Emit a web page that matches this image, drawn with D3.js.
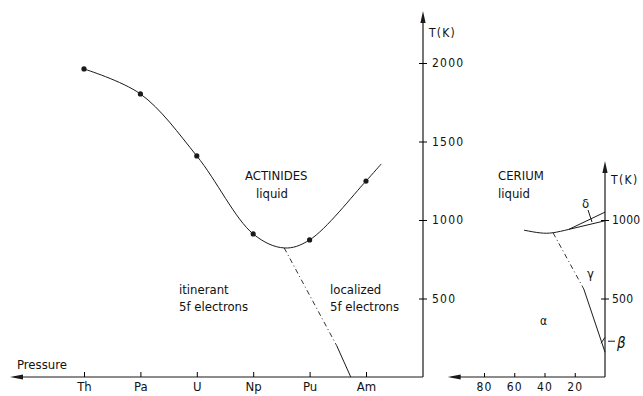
<html>
<head>
<title>Actinides and cerium</title>
<style>
body{margin:0;background:#fff;}
.chart text{font-family:"DejaVu Sans Condensed","Liberation Sans Narrow",sans-serif;fill:#111;}
</style>
<script src="https://d3js.org/d3.v7.min.js"></script>
</head>
<body>
<svg class="chart" width="643" height="396"></svg>
<script>
// actinides: melting points (K)
var elements = ["Th","Pa","U","Np","Pu","Am"];
var meltT = [1962, 1803, 1408, 911, 873, 1248];
// smooth liquidus through the points (index along the series)
var curveX = [0, 1, 2, 3, 3.55, 4, 5, 5.27];
var curveT = [1962, 1803, 1408, 911, 822, 873, 1248, 1357];
// itinerant / localized boundary
var locX = [3.55, 4.48, 4.73];
var locT = [822, 200, 0];
var tTicks = [500, 1000, 1500, 2000];

// cerium: pressure (kbar) vs T (K)
var ceLiqP = [53.5, 43, 34.3, 24];
var ceLiqT = [935, 918, 919, 940];
var ceDeltaUpP = [24, 0], ceDeltaUpT = [940, 1050];
var ceDeltaLoP = [24, 0], ceDeltaLoT = [940, 995];
var ceAlphaP = [34.3, 14, 0], ceAlphaT = [918, 560, 158];
var ceBetaP = [0, 2.6], ceBetaT = [253, 215];
var ceTicksP = [80, 60, 40, 20];
var ceTicksT = [500, 1000];

var margin = {left: 10, bottom: 377},
    axisX = 423, ceAxisX = 605;

var svg = d3.select(".chart");

var x = d3.scaleLinear().domain([0, 5]).range([84, 366]);
var y = d3.scaleLinear().domain([0, 2000]).range([377, 63]);
var xc = d3.scaleLinear().domain([0, 80]).range([ceAxisX, 484]);

var ink = "#1a1a1a";

function arrow(g, x0, y0, dir) {
  // filled arrow head; dir "up" or "left"
  var p = dir == "up"
    ? [[x0, y0], [x0 - 2.6, y0 + 12], [x0 + 2.6, y0 + 12]]
    : [[x0, y0], [x0 + 13, y0 - 2.6], [x0 + 13, y0 + 2.6]];
  g.append("path").attr("d", "M" + p.join("L") + "Z").attr("fill", ink);
}

// ---- actinides panel ----
var g1 = svg.append("g");

g1.append("line").attr("x1", margin.left + 4).attr("x2", axisX)
  .attr("y1", y(0)).attr("y2", y(0)).attr("stroke", ink).attr("stroke-width", 1.2);
arrow(g1, margin.left, y(0), "left");
g1.append("line").attr("x1", axisX).attr("x2", axisX)
  .attr("y1", y(0)).attr("y2", 16).attr("stroke", ink).attr("stroke-width", 1.2);
arrow(g1, axisX, 11, "up");

var xAxis = g1.append("g").attr("transform", "translate(0," + y(0) + ")")
  .call(d3.axisBottom(x).tickValues(d3.range(elements.length))
    .tickFormat(function(i) { return elements[i]; }).tickSize(-5).tickSizeOuter(0).tickPadding(5));
xAxis.select(".domain").remove();
xAxis.selectAll("text").attr("font-size", 13).attr("fill", ink);

var yAxis = g1.append("g").attr("transform", "translate(" + axisX + ",0)")
  .call(d3.axisRight(y).tickValues(tTicks).tickFormat(d3.format("d")).tickSize(4).tickPadding(5));
yAxis.select(".domain").remove();
yAxis.selectAll("line").attr("x1", -4);
yAxis.selectAll("text").attr("font-size", 12).attr("letter-spacing", 1.2).attr("fill", ink);

g1.append("text").attr("x", axisX + 6).attr("y", 37).attr("font-size", 12)
  .attr("letter-spacing", 1.2).text("T(K)");
g1.append("text").attr("x", 17).attr("y", 369).attr("font-size", 13).text("Pressure");

var curve = curveX.map(function(d, i) { return [d, curveT[i]]; });
g1.append("path").datum(curve)
  .attr("fill", "none").attr("stroke", ink).attr("stroke-width", 1)
  .attr("d", d3.line().x(function(d) { return x(d[0]); }).y(function(d) { return y(d[1]); })
    .curve(d3.curveCatmullRom.alpha(0.5)));

g1.selectAll("circle.pt").data(meltT).join("circle").attr("class", "pt")
  .attr("cx", function(d, i) { return x(i); }).attr("cy", function(d) { return y(d); })
  .attr("r", 2.6).attr("fill", ink);

g1.append("line").attr("x1", x(locX[0])).attr("y1", y(locT[0]))
  .attr("x2", x(locX[1])).attr("y2", y(locT[1]))
  .attr("stroke", ink).attr("stroke-width", 0.9).attr("stroke-dasharray", "5,3,1,3");
g1.append("line").attr("x1", x(locX[1])).attr("y1", y(locT[1]))
  .attr("x2", x(locX[2])).attr("y2", y(locT[2]))
  .attr("stroke", ink).attr("stroke-width", 1);

function label(g, px, py, lines, size) {
  var t = g.append("text").attr("x", px).attr("y", py).attr("font-size", size);
  lines.forEach(function(s, i) {
    t.append("tspan").attr("x", px).attr("dy", i ? 17 : 0).text(s);
  });
}
label(g1, 245, 180, ["ACTINIDES"], 13);
label(g1, 256, 198, ["liquid"], 13);
label(g1, 179, 294, ["itinerant", "5f electrons"], 13);
label(g1, 330, 294, ["localized", "5f electrons"], 13);

// ---- cerium panel ----
var g2 = svg.append("g");

g2.append("line").attr("x1", xc(104) + 4).attr("x2", ceAxisX)
  .attr("y1", y(0)).attr("y2", y(0)).attr("stroke", ink).attr("stroke-width", 1.2);
arrow(g2, xc(104), y(0), "left");
g2.append("line").attr("x1", ceAxisX).attr("x2", ceAxisX)
  .attr("y1", y(0)).attr("y2", 166).attr("stroke", ink).attr("stroke-width", 1.2);
arrow(g2, ceAxisX, 161, "up");

var cxAxis = g2.append("g").attr("transform", "translate(0," + y(0) + ")")
  .call(d3.axisBottom(xc).tickValues(ceTicksP).tickSize(-4).tickSizeOuter(0).tickPadding(5));
cxAxis.select(".domain").remove();
cxAxis.selectAll("text").attr("font-size", 12).attr("letter-spacing", 1.2).attr("fill", ink);

var cyAxis = g2.append("g").attr("transform", "translate(" + ceAxisX + ",0)")
  .call(d3.axisRight(y).tickValues(ceTicksT).tickFormat(d3.format("d")).tickSize(4).tickPadding(3));
cyAxis.select(".domain").remove();
cyAxis.selectAll("line").attr("x1", -4);
cyAxis.selectAll("text").attr("font-size", 12).attr("letter-spacing", 0.2).attr("fill", ink);

g2.append("text").attr("x", ceAxisX + 6).attr("y", 184).attr("font-size", 12)
  .attr("letter-spacing", 1.4).text("T(K)");

var ceLine = d3.line().x(function(d) { return xc(d[0]); }).y(function(d) { return y(d[1]); });
function pairs(a, b) { return a.map(function(d, i) { return [d, b[i]]; }); }

g2.append("path").datum(pairs(ceLiqP, ceLiqT)).attr("fill", "none")
  .attr("stroke", ink).attr("stroke-width", 1)
  .attr("d", ceLine.curve(d3.curveNatural));
ceLine.curve(d3.curveLinear);
[[ceDeltaUpP, ceDeltaUpT], [ceDeltaLoP, ceDeltaLoT], [ceBetaP, ceBetaT]].forEach(function(s) {
  g2.append("path").datum(pairs(s[0], s[1])).attr("fill", "none")
    .attr("stroke", ink).attr("stroke-width", 1).attr("d", ceLine);
});
g2.append("path").datum(pairs(ceAlphaP.slice(0, 2), ceAlphaT.slice(0, 2))).attr("fill", "none")
  .attr("stroke", ink).attr("stroke-width", 0.9).attr("stroke-dasharray", "5,3,1,3").attr("d", ceLine);
g2.append("path").datum(pairs(ceAlphaP.slice(1), ceAlphaT.slice(1))).attr("fill", "none")
  .attr("stroke", ink).attr("stroke-width", 1).attr("d", ceLine);

label(g2, 498, 180, ["CERIUM"], 13);
label(g2, 498, 198, ["liquid"], 13);

// phase labels
g2.append("text").attr("x", 582).attr("y", 208).attr("font-size", 13).text("δ");
g2.append("line").attr("x1", 588).attr("y1", 210).attr("x2", 592).attr("y2", 222)
  .attr("stroke", ink).attr("stroke-width", 1);
g2.append("text").attr("x", 587).attr("y", 278).attr("font-size", 13).text("γ");
g2.append("text").attr("x", 540).attr("y", 325).attr("font-size", 12).text("α");
g2.append("line").attr("x1", xc(0) + 3).attr("y1", y(228)).attr("x2", xc(0) + 10).attr("y2", y(228))
  .attr("stroke", ink).attr("stroke-width", 1);
g2.append("text").attr("x", 617).attr("y", 348).attr("font-size", 15)
  .attr("font-style", "italic").text("β");
</script>
</body>
</html>
